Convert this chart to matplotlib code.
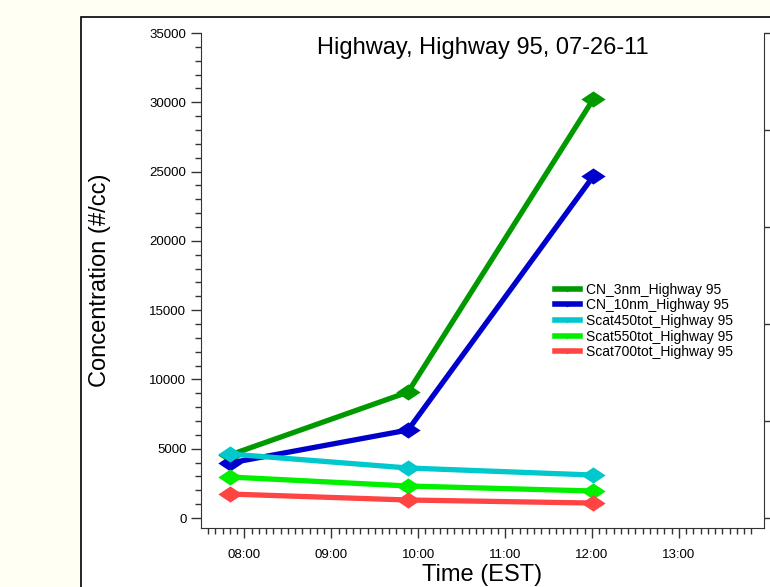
import matplotlib
matplotlib.use("Agg")
import matplotlib.pyplot as plt
from matplotlib.lines import Line2D
from matplotlib.patches import Rectangle
from matplotlib.ticker import MultipleLocator, FuncFormatter, FixedLocator

plt.rcParams['font.family'] = ['Liberation Sans', 'DejaVu Sans']

# sample times (HH:MM) and concentrations (#/cc)
times = ["07:50", "09:53", "12:01"]
cn_3nm = [4550, 9090, 30240]
cn_10nm = [3970, 6350, 24680]
scat450 = [4620, 3610, 3100]
scat550 = [2960, 2310, 1950]
scat700 = [1730, 1300, 1080]

labels = ["CN_3nm_Highway 95", "CN_10nm_Highway 95", "Scat450tot_Highway 95",
          "Scat550tot_Highway 95", "Scat700tot_Highway 95"]
colors = ["#009a00", "#0000cc", "#00c8cc", "#00f000", "#ff4444"]
series = [cn_3nm, cn_10nm, scat450, scat550, scat700]


def to_hours(s):
    h, m = s.split(":")
    return int(h) + int(m) / 60.0


hours = [to_hours(t) for t in times]

fig = plt.figure(figsize=(7.7, 5.87), dpi=100)
fig.patch.set_facecolor('#fffff4')
panel = Rectangle((81 / 770, -0.1), 1.0, 1.1 - 17 / 587, transform=fig.transFigure,
                  facecolor='white', edgecolor='black', lw=1.2, zorder=-10)
fig.patches.append(panel)

ax = fig.add_axes([201 / 770, 1 - 528 / 587, (764 - 201) / 770, (528 - 33) / 587])
ax.set_facecolor('none')

diamond = [(-1.5, 0), (0, 1), (1.5, 0), (0, -1), (-1.5, 0)]
for ys, c in zip(series, colors):
    ax.plot(hours, ys, color=c, lw=3.8, marker=diamond, markersize=17.5,
            markeredgewidth=0, solid_capstyle='butt', clip_on=False)

ax.set_xlim(7.5, 13.98)
ax.set_ylim(-720, 35000)

ax.xaxis.set_major_locator(MultipleLocator(1))
minor_x = [7 + 35 / 60 + i / 12 for i in range(76)]
ax.xaxis.set_minor_locator(FixedLocator(minor_x))
ax.xaxis.set_major_formatter(FuncFormatter(lambda v, p: "%02d:00" % round(v)))
ax.yaxis.set_major_locator(MultipleLocator(5000))
ax.yaxis.set_minor_locator(MultipleLocator(1000))

ax.tick_params(axis='both', which='major', width=1, color='#333333',
               labelsize=9.5, pad=3)
ax.tick_params(axis='y', which='major', length=7.5)
ax.tick_params(axis='y', which='minor', length=4, width=1, color='#333333')
ax.tick_params(axis='x', which='major', length=7, pad=8)
ax.tick_params(axis='x', which='minor', length=4.5, width=1, color='#333333')

for side in ['top', 'right']:
    ax.spines[side].set_visible(False)
ax.spines['left'].set_color('#333333')
ax.spines['bottom'].set_color('#333333')

ax2 = ax.twinx()
ax2.set_ylim(-720, 35000)
ax2.set_yticks([0, 7000, 14000, 21000, 28000, 35000])
ax2.tick_params(axis='y', length=8, width=1, labelright=False, color='#333333')
for side in ['top', 'left', 'bottom']:
    ax2.spines[side].set_visible(False)
ax2.spines['right'].set_color('#333333')

ax.set_ylabel("Concentration (#/cc)", fontsize=17, labelpad=28)
ax.set_xlabel("Time (EST)", fontsize=17, labelpad=2)
ax.text(0.5, 0.992, "Highway, Highway 95, 07-26-11", transform=ax.transAxes,
        ha='center', va='top', fontsize=17)

handles = [Line2D([0], [0], color=c, lw=4, marker=diamond, markersize=6,
                  markeredgewidth=0) for c in colors]
ax.legend(handles, labels, loc='upper left', bbox_to_anchor=(549 / 770, 1 - 277 / 587),
          bbox_transform=fig.transFigure, frameon=False, fontsize=10,
          handlelength=1.8, handletextpad=0.5, labelspacing=0.12, borderaxespad=0)

fig.savefig("out.png", dpi=100, facecolor=fig.get_facecolor())
